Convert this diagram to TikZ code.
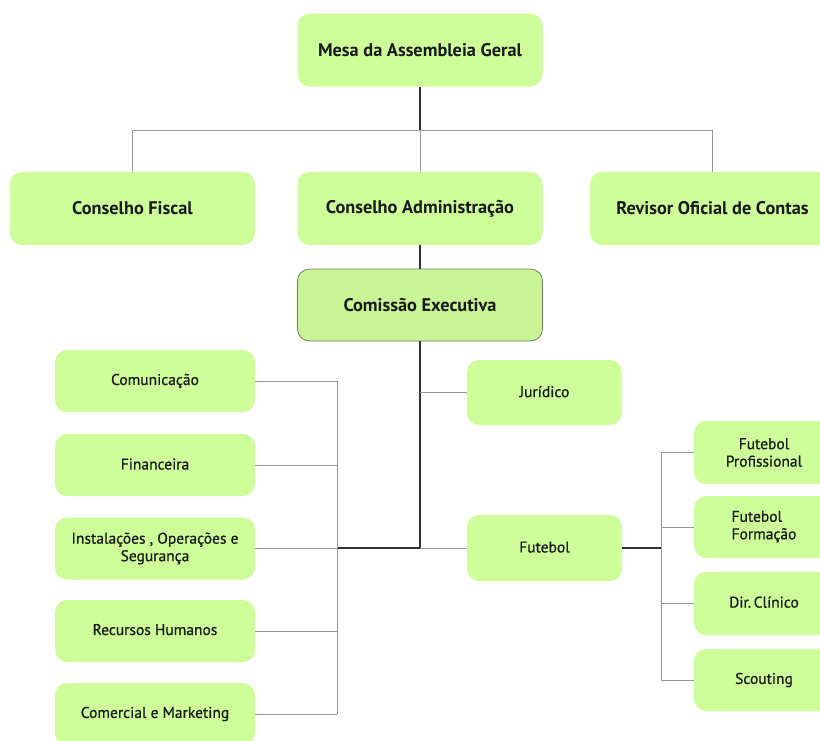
\documentclass[tikz,border=0pt]{standalone}
\usepackage{fontspec}
\setmainfont{PT Sans}
\newfontfamily\medfont{PT Sans}[FakeBold=0.7]
\definecolor{boxgreen}{RGB}{205,254,153}
\definecolor{execgreen}{RGB}{201,244,150}
\definecolor{execedge}{RGB}{112,128,96}
\definecolor{darkline}{RGB}{50,50,50}
\definecolor{lightline}{RGB}{150,150,150}
\tikzset{
  orgbox/.style={fill=boxgreen, rounded corners=12pt, inner sep=0pt, align=center, text=black!90},
  bigbox/.style={orgbox, minimum width=245pt, minimum height=73pt,
    font=\bfseries\fontsize{18.3}{20}\selectfont},
  deptbox/.style={orgbox, minimum width=200pt, minimum height=62pt,
    font=\medfont\fontsize{15.5}{17.5}\selectfont},
  unitbox/.style={orgbox, minimum width=155pt, minimum height=65pt,
    font=\medfont\fontsize{15.5}{17.5}\selectfont},
  subbox/.style={orgbox, minimum width=140pt, minimum height=62pt,
    font=\medfont\fontsize{15.5}{17.5}\selectfont},
  darkwire/.style={draw=darkline, line width=1.3pt},
  lightwire/.style={draw=lightline, line width=0.9pt}
}
\begin{document}
\begin{tikzpicture}[x=1pt,y=-1pt]
\path[use as bounding box, clip] (0,0) rectangle (820,740);
\fill[white] (0,0) rectangle (820,740);

% governing bodies
\node[bigbox] (mesa) at (420,50) {Mesa da Assembleia Geral};
\node[bigbox] (fiscal) at (132.5,208.5) {Conselho Fiscal};
\node[bigbox] (admin) at (420,208.5) {Conselho Administração};
\node[bigbox] (revisor) at (712.5,208.5) {Revisor Oficial de Contas};
\node[bigbox, fill=execgreen, draw=execedge, line width=0.8pt, minimum height=72pt] (exec) at (420,305) {Comissão Executiva};

% support departments
\node[deptbox] (com) at (155,381) {\raisebox{3pt}{Comunicação}};
\node[deptbox] (fin) at (155,465) {\raisebox{2pt}{Financeira}};
\node[deptbox] (inst) at (155,548.5) {Instalações , Operações e\\Segurança};
\node[deptbox] (rh) at (155,631) {\raisebox{3pt}{Recursos Humanos}};
\node[deptbox] (cm) at (155,714) {\raisebox{3pt}{Comercial e Marketing}};

% operational units
\node[unitbox] (jur) at (544.5,392.5) {\raisebox{2pt}{Jurídico}};
\node[unitbox, minimum height=66pt] (fut) at (544.5,548) {\raisebox{2pt}{Futebol}};

% football sections
\node[subbox, minimum height=63pt] (fp) at (764,452.5) {Futebol\\Profissional};
\node[subbox] (ff) at (764,527) {\begin{tabular}{@{}l@{}}Futebol\\Formação\end{tabular}};
\node[subbox, minimum height=63pt] (dc) at (764,603.5) {\raisebox{3pt}{Dir.\,Clínico}};
\node[subbox] (sc) at (764,680) {\raisebox{3pt}{Scouting}};

% junction points
\coordinate (topbus) at (420,130);
\coordinate (trunk) at (420,548);
\coordinate (leftbus) at (337,548);
\coordinate (rightbus) at (661,548);

% top level
\draw[darkwire] (mesa.south) -- (topbus);
\draw[lightwire] (fiscal.north) -- (fiscal.north |- topbus) -- (revisor.north |- topbus) -- (revisor.north);
\draw[lightwire] (topbus) -- (admin.north);
\draw[darkwire] (admin.south) -- (exec.north);

% executive trunk
\draw[darkwire] (exec.south) -- (trunk) -- (leftbus);
\draw[lightwire] (trunk |- jur) -- (jur.west);
\draw[lightwire] (trunk) -- (fut.west);

% departments on the left
\draw[lightwire] (com.east -| leftbus) -- (cm.east -| leftbus);
\foreach \d in {com,fin,inst,rh,cm}
  \draw[lightwire] (\d.east) -- (\d.east -| leftbus);

% football sections on the right
\draw[darkwire] (fut.east) -- (rightbus);
\draw[lightwire] (rightbus |- fp.west) -- (rightbus |- sc.west);
\foreach \s in {fp,ff,dc,sc}
  \draw[lightwire] (rightbus |- \s.west) -- (\s.west);
\end{tikzpicture}
\end{document}
